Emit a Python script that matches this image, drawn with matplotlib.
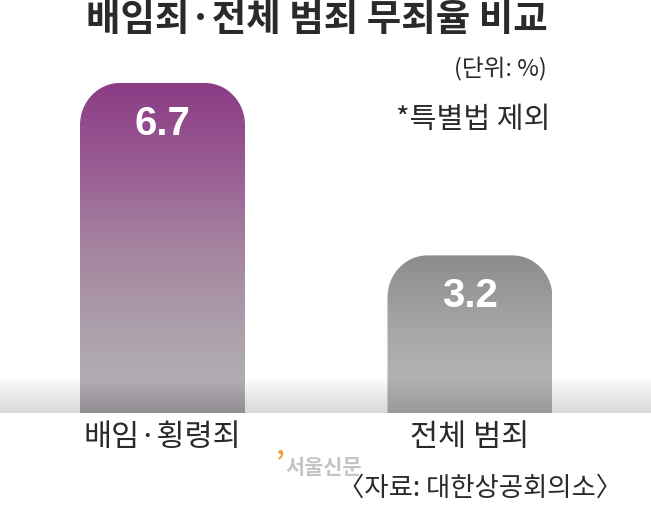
import numpy as np
import matplotlib
matplotlib.use('Agg')
import matplotlib.pyplot as plt
from matplotlib.path import Path
from matplotlib.patches import PathPatch
from matplotlib.colors import to_rgb

plt.rcParams['font.family'] = ['Noto Sans CJK KR', 'DejaVu Sans']

# data
categories = ['배임·횡령죄', '전체 범죄']
values = [6.7, 3.2]
value_labels = ['6.7', '3.2']
title = '배임죄·전체 범죄 무죄율 비교'
unit_note = '(단위: %)'
extra_note = '*특별법 제외'
source = '〈자료: 대한상공회의소〉'

# gradient stops (fraction from bar bottom, colour)
purple_stops = [(0.0, '#938d94'), (0.1, '#b2adb3'), (0.25, '#ad9fab'),
                (0.5, '#a5849f'), (0.75, '#9a5c94'), (1.0, '#8a3c84')]
gray_stops = [(0.0, '#999999'), (0.22, '#b2b2b2'), (0.5, '#a8a8a8'), (1.0, '#8c8c8c')]


def gradient(stops, n=256):
    f = np.linspace(0, 1, n)
    pos = [s[0] for s in stops]
    cols = np.array([to_rgb(s[1]) for s in stops])
    img = np.stack([np.interp(f, pos, cols[:, k]) for k in range(3)], axis=-1)
    return img[:, None, :]


def rounded_top(x0, x1, h, rx, ry):
    k = 0.5523
    verts = [(x0, 0), (x0, h - ry),
             (x0, h - ry + k * ry), (x0 + rx - k * rx, h), (x0 + rx, h),
             (x1 - rx, h),
             (x1 - rx + k * rx, h), (x1, h - ry + k * ry), (x1, h - ry),
             (x1, 0), (x0, 0)]
    codes = [Path.MOVETO, Path.LINETO,
             Path.CURVE4, Path.CURVE4, Path.CURVE4,
             Path.LINETO,
             Path.CURVE4, Path.CURVE4, Path.CURVE4,
             Path.LINETO, Path.CLOSEPOLY]
    return Path(verts, codes)


W, H = 651, 517
fig = plt.figure(figsize=(W / 100, H / 100), dpi=100)
px_per_unit = 330 / 6.7
ax = fig.add_axes([0, 104 / H, 1, 413 / H])
x_scale = 307.5
xmin = -162.5 / x_scale
ax.axis('off')

# floor shading
floor = gradient([(0.0, '#d8d8d8'), (0.7, '#f0f0f0'), (1.0, '#ffffff')])
ax.imshow(floor, extent=[xmin, xmin + W / x_scale, 0, 35 / px_per_unit],
          origin='lower', aspect='auto', zorder=1)

bar_w = 165 / x_scale
rx = 40 / x_scale
ry = 42 / px_per_unit
for i, (v, stops) in enumerate(zip(values, [purple_stops, gray_stops])):
    x0, x1 = i - bar_w / 2, i + bar_w / 2
    patch = PathPatch(rounded_top(x0, x1, v, rx, ry), facecolor='none',
                      edgecolor='none', zorder=2)
    ax.add_patch(patch)
    im = ax.imshow(gradient(stops), extent=[x0, x1, 0, v], origin='lower',
                   aspect='auto', zorder=2)
    im.set_clip_path(patch)
    ax.text(i, v - 41 / px_per_unit, value_labels[i], ha='center', va='center',
            color='white', fontsize=29, fontweight='bold',
            family=['Liberation Sans', 'DejaVu Sans'], zorder=3)
ax.set_xlim(xmin, xmin + W / x_scale)
ax.set_ylim(0, 413 / px_per_unit)

for i, c in enumerate(categories):
    ax.text(i, -25 / px_per_unit, c, ha='center', va='center',
            fontsize=22, color='#2a2a2a')

fig.text(317 / W, 1 - 20 / H, title, ha='center', va='center',
         fontsize=27, fontweight='bold', color='#2a2a2a')
fig.text(547 / W, 1 - 69 / H, unit_note, ha='right', va='center',
         fontsize=17, color='#2a2a2a')
fig.text(550 / W, 1 - 120 / H, extra_note, ha='right', va='center',
         fontsize=21, color='#2a2a2a')
fig.text(622 / W, 1 - 488 / H, source, ha='right', va='center',
         fontsize=19, color='#2a2a2a')
fig.text(276 / W, 1 - 463 / H, '\u2019', ha='left', va='center',
         fontsize=20, fontweight='bold', color='#f0a040')
fig.text(285 / W, 1 - 467 / H, '서울신문', ha='left', va='center',
         fontsize=15, fontweight='bold', color='#c4c4c4')

fig.savefig('out.png', dpi=100)
